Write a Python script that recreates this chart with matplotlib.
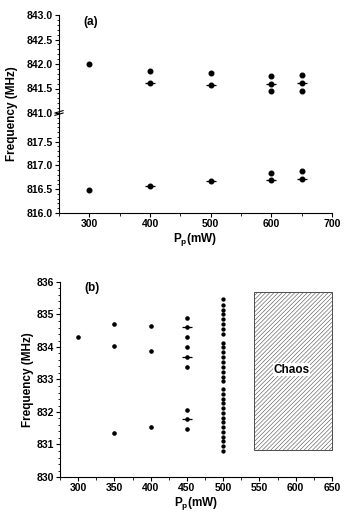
import matplotlib.pyplot as plt
from matplotlib.patches import Rectangle
from matplotlib.ticker import MultipleLocator

plt.rcParams['font.family'] = ['Liberation Sans', 'DejaVu Sans']
plt.rcParams['font.weight'] = 'bold'
plt.rcParams['axes.labelweight'] = 'bold'
plt.rcParams['mathtext.default'] = 'regular'
plt.rcParams['hatch.linewidth'] = 0.4
plt.rcParams['hatch.color'] = '0.45'

# (a) upper branch
up_x = [300, 400, 400, 500, 500, 600, 600, 600, 650, 650, 650]
up_f = [842.0, 841.86, 841.62, 841.82, 841.57, 841.75, 841.60, 841.45, 841.78, 841.61, 841.45]
up_bar_x = [400, 500, 600, 650]
up_bar_f = [841.62, 841.57, 841.60, 841.61]
# (a) lower branch
lo_x = [300, 400, 500, 600, 600, 650, 650]
lo_f = [816.48, 816.56, 816.67, 816.85, 816.70, 816.88, 816.72]
lo_bar_x = [400, 500, 600, 650]
lo_bar_f = [816.56, 816.67, 816.70, 816.72]

# (b)
b_x = [300, 350, 350, 350, 400, 400, 400,
       450, 450, 450, 450, 450, 450, 450, 450, 450]
b_f = [834.32, 834.70, 834.03, 831.34, 834.65, 833.89, 831.55,
       834.90, 834.60, 834.30, 834.00, 833.70, 833.39, 832.06, 831.78, 831.47]
b_bar_x = [450, 450, 450]
b_bar_f = [834.60, 833.70, 831.78]
p500_f = [835.47, 835.30, 835.14, 835.01, 834.85, 834.71, 834.55, 834.39,
          834.11, 833.99, 833.86, 833.70, 833.55, 833.39, 833.24, 833.08,
          832.95, 832.70, 832.55, 832.41, 832.27, 832.12, 831.98, 831.82,
          831.68, 831.53, 831.38, 831.24, 831.10, 830.95, 830.81]
chaos_x = [542, 650]
chaos_f = [830.83, 835.68]

W, H = 344, 517
fig = plt.figure(figsize=(W / 100, H / 100), dpi=100)

def box(l, t, r, b):
    return [l / W, 1 - b / H, (r - l) / W, (b - t) / H]

def style(ax):
    for s in ['top', 'right']:
        ax.spines[s].set_visible(False)
    ax.tick_params(direction='out', labelsize=7.5, length=3, width=0.8, pad=1.5)
    ax.tick_params(which='minor', direction='out', length=1.8, width=0.6)

ax_up = fig.add_axes(box(59, 15, 332, 113))
ax_lo = fig.add_axes(box(59, 113, 332, 213))
ax_b = fig.add_axes(box(60, 282, 332, 477))

for ax in (ax_up, ax_lo):
    style(ax)
    ax.set_xlim(250, 700)
ax_up.spines['bottom'].set_visible(False)
ax_up.tick_params(axis='x', which='both', bottom=False, labelbottom=False)

ax_up.plot(up_bar_x, up_bar_f, ls='none', marker='_', ms=7, mew=0.9, color='k')
ax_up.plot(up_x, up_f, ls='none', marker='o', ms=3.3, color='k')
ax_lo.plot(lo_bar_x, lo_bar_f, ls='none', marker='_', ms=7, mew=0.9, color='k')
ax_lo.plot(lo_x, lo_f, ls='none', marker='o', ms=3.3, color='k')

ax_up.set_ylim(841, 843)
ax_lo.set_ylim(816, 818.1)
ax_up.yaxis.set_major_locator(MultipleLocator(0.5))
ax_up.yaxis.set_minor_locator(MultipleLocator(0.1))
ax_lo.set_yticks([816.0, 816.5, 817.0, 817.5])
ax_lo.yaxis.set_minor_locator(MultipleLocator(0.1))
ax_up.yaxis.set_major_formatter('{x:.1f}')
ax_lo.yaxis.set_major_formatter('{x:.1f}')
ax_lo.xaxis.set_major_locator(MultipleLocator(100))
ax_lo.xaxis.set_minor_locator(MultipleLocator(50))

# axis break marks
for dy in (-0.012, 0.012):
    ax_lo.plot([-0.015, 0.015], [1 + dy - 0.012, 1 + dy + 0.012], transform=ax_lo.transAxes,
               color='k', lw=0.8, clip_on=False)

ax_up.text(0.09, 0.93, '(a)', transform=ax_up.transAxes, fontsize=8.5, ha='left', va='center')
ax_lo.set_xlabel(r'P$_p$(mW)', fontsize=8.5, labelpad=1)
fig.text(12 / W, 1 - 114 / H, 'Frequency (MHz)', rotation=90, fontsize=8.5, ha='center', va='center')

# (b)
style(ax_b)
ax_b.set_xlim(275, 650)
ax_b.set_ylim(830, 836)
ax_b.xaxis.set_major_locator(MultipleLocator(50))
ax_b.xaxis.set_minor_locator(MultipleLocator(25))
ax_b.yaxis.set_major_locator(MultipleLocator(1))
ax_b.yaxis.set_minor_locator(MultipleLocator(0.2))
ax_b.plot(b_bar_x, b_bar_f, ls='none', marker='_', ms=7, mew=0.9, color='k')
ax_b.plot(b_x, b_f, ls='none', marker='o', ms=2.3, color='k')
ax_b.plot([500] * len(p500_f), p500_f, ls='none', marker='o', ms=2.1, color='k')
ax_b.add_patch(Rectangle((chaos_x[0], chaos_f[0]), chaos_x[1] - chaos_x[0], chaos_f[1] - chaos_f[0],
                         facecolor='white', edgecolor='0.3', lw=0.7, hatch='////////', clip_on=False))
ax_b.text(594, 833.3, 'Chaos', fontsize=8.5, ha='center', va='center',
          bbox=dict(facecolor='white', edgecolor='none', pad=0.5))
ax_b.text(0.09, 0.97, '(b)', transform=ax_b.transAxes, fontsize=8.5, ha='left', va='center')
ax_b.set_xlabel(r'P$_p$(mW)', fontsize=8.5, labelpad=1)
ax_b.set_ylabel('Frequency (MHz)', fontsize=8.5, labelpad=2)

fig.savefig('out.png', dpi=100)
